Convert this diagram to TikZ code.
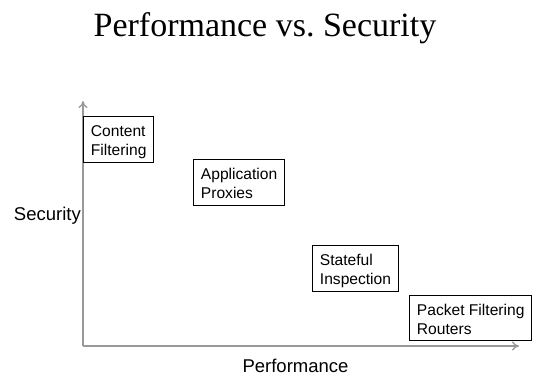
\documentclass[tikz,border=0pt]{standalone}
\usepackage{fontspec}
\setmainfont{Liberation Serif}
\setsansfont{Liberation Sans}
\usetikzlibrary{arrows.meta}
\tikzset{
  axis/.style={draw=black!40, line width=1.3pt, -{To[length=7pt,width=9pt]}},
  tierbox/.style={draw=black, line width=0.9pt, fill=white, anchor=north west,
    inner xsep=7.5pt, inner ysep=0pt, text height=20.5pt, text depth=25.5pt,
    font=\sffamily\fontsize{15.6}{18.8}\selectfont},
  axislabel/.style={font=\sffamily\fontsize{18.5}{20}\selectfont, inner sep=0pt},
}
% two left-aligned lines in a box of fixed width (text may run past it);
% the baseline is that of the first line
\newcommand{\twolines}[3]{\makebox[#1][l]{\begin{tabular}[t]{@{}l@{}}#2\\#3\end{tabular}}}
\begin{document}
\begin{tikzpicture}[x=1pt, y=-1pt]
  \useasboundingbox (0,0) rectangle (533,376);

  % title
  \node[font=\fontsize{34}{38}\selectfont, anchor=base, inner sep=0pt] (title)
    at (265,36) {Performance vs.\ Security};

  % axes
  \coordinate (origin) at (83,346);
  \coordinate (ytip) at (83,101);
  \coordinate (xtip) at (519,346);
  \draw[axis] (origin) -- (ytip);
  \draw[axis] (origin) -- (xtip);

  % axis labels
  \node[axislabel, anchor=base east] (ylabel) at (81,220) {Security};
  \node[axislabel, anchor=base] (xlabel) at (295.5,372) {Performance};

  % firewall technologies
  \node[tierbox] (cf) at (83,116) {\twolines{55pt}{Content}{Filtering}};
  \node[tierbox] (ap) at (193,158.5) {\twolines{76pt}{Application}{Proxies}};
  \node[tierbox] (si) at (312,245) {\twolines{71pt}{Stateful}{Inspection}};
  \node[tierbox, text depth=24.5pt] (pf) at (409,295)
    {\twolines{107pt}{Packet Filtering}{Routers}};
\end{tikzpicture}
\end{document}
